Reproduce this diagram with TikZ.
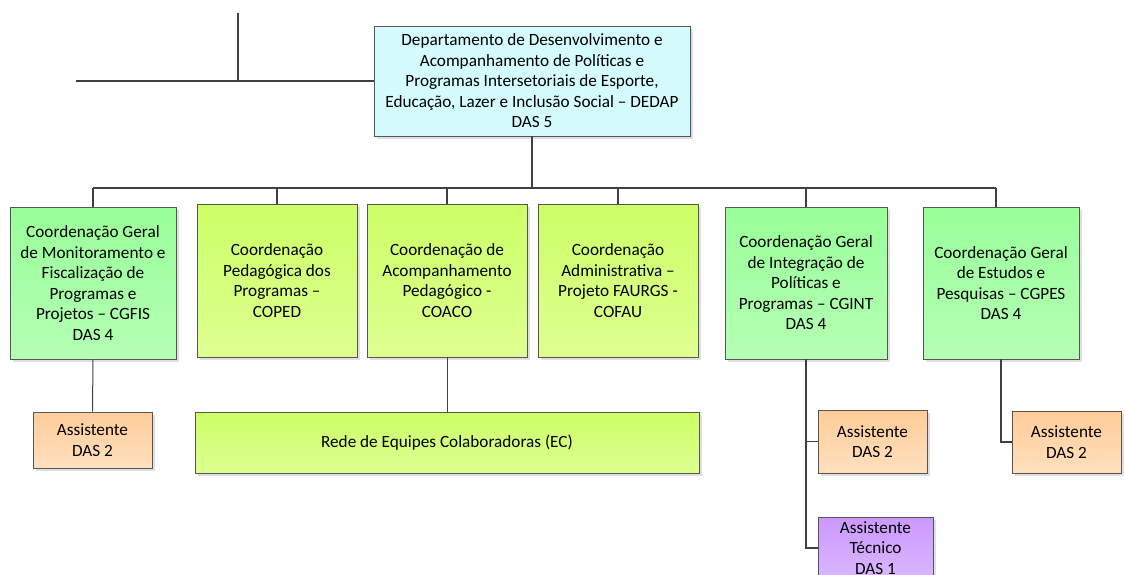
\documentclass[tikz,border=0pt]{standalone}
\usepackage{fontspec}
\setmainfont{Carlito}
\usetikzlibrary{shadows}
\definecolor{cyanf}{RGB}{212,252,252}
\definecolor{greenT}{RGB}{153,255,153}
\definecolor{greenB}{RGB}{180,255,180}
\definecolor{limeT}{RGB}{204,255,102}
\definecolor{limeB}{RGB}{222,255,145}
\definecolor{orgT}{RGB}{255,204,153}
\definecolor{orgB}{RGB}{255,224,190}
\definecolor{purT}{RGB}{204,153,255}
\definecolor{purB}{RGB}{218,182,255}
\definecolor{edgec}{RGB}{85,85,85}
\definecolor{linec}{RGB}{64,64,64}
\tikzset{
  orgbox/.style={rectangle, draw=edgec, line width=0.9pt, inner sep=0pt, align=center,
    font=\fontsize{17.2}{20.5}\selectfont,
    drop shadow={shadow xshift=3pt, shadow yshift=-3pt, fill=black!12, opacity=1}},
  topbox/.style={orgbox, fill=cyanf},
  greenbox/.style={orgbox, top color=greenT, bottom color=greenB},
  limebox/.style={orgbox, top color=limeT, bottom color=limeB},
  orgebox/.style={orgbox, top color=orgT, bottom color=orgB},
  purbox/.style={orgbox, top color=purT, bottom color=purB},
  conn/.style={draw=linec, line width=1.8pt},
  thinconn/.style={draw=linec, line width=1pt}
}
\begin{document}
\begin{tikzpicture}[x=1pt,y=-1pt]
\useasboundingbox (0,0) rectangle (1124,574);
\clip (0,0) rectangle (1124,574);
\node[topbox, minimum width=316pt, minimum height=110pt] (dep) at (532,81)
  {Departamento de Desenvolvimento e\\Acompanhamento de Políticas e\\Programas Intersetoriais de Esporte,\\Educação, Lazer e Inclusão Social – DEDAP\\DAS 5};
\node[greenbox, minimum width=166pt, minimum height=152pt] (cgfis) at (93,283)
  {Coordenação Geral\\de Monitoramento e\\Fiscalização de\\Programas e\\Projetos – CGFIS\\DAS 4};
\node[limebox, minimum width=160pt, minimum height=153pt] (coped) at (277,280.5)
  {Coordenação\\Pedagógica dos\\Programas –\\COPED};
\node[limebox, minimum width=160pt, minimum height=153pt] (coaco) at (447,280.5)
  {Coordenação de\\Acompanhamento\\Pedagógico -\\COACO};
\node[limebox, minimum width=160pt, minimum height=153pt] (cofau) at (618,280.5)
  {Coordenação\\Administrativa –\\Projeto FAURGS -\\COFAU};
\node[greenbox, minimum width=162pt, minimum height=152pt] (cgint) at (806,283)
  {Coordenação Geral\\de Integração de\\Políticas e\\Programas – CGINT\\DAS 4};
\node[greenbox, minimum width=156pt, minimum height=152pt] (cgpes) at (1001,283)
  {Coordenação Geral\\de Estudos e\\Pesquisas – CGPES\\DAS 4};
\node[orgebox, minimum width=119pt, minimum height=56pt] (as1) at (92.5,440)
  {Assistente\\DAS 2};
\node[limebox, minimum width=504pt, minimum height=61pt] (rede) at (447,442.5)
  {Rede de Equipes Colaboradoras (EC)};
\node[orgebox, minimum width=109pt, minimum height=63pt] (as2) at (872.5,441.5)
  {Assistente\\DAS 2};
\node[orgebox, minimum width=109pt, minimum height=62pt] (as3) at (1066.5,442)
  {Assistente\\DAS 2};
\node[purbox, minimum width=115pt, minimum height=62pt] (at) at (875.5,548)
  {Assistente\\Técnico\\DAS 1};
% top-left lines
\coordinate (topL) at (76,81);
\coordinate (topV) at (238,13);
\coordinate (topJ) at (238,81);
\draw[conn] (topL) -- (dep.west);
\draw[conn] (topV) -- (topJ);
% bus
\coordinate (busL) at (93,188);
\coordinate (busR) at (996,188);
\draw[conn] (dep.south) -- (dep.south |- busL);
\draw[conn] (busL) -- (busR);
\draw[conn] (busL) -- (cgfis.north);
\draw[conn] (coped.north |- busL) -- (coped.north);
\draw[conn] (coaco.north |- busL) -- (coaco.north);
\draw[conn] (cofau.north |- busL) -- (cofau.north);
\draw[conn] (cgint.north |- busL) -- (cgint.north);
\draw[conn] (busR) -- (busR |- cgpes.north);
% lower connectors
\draw[thinconn] (cgfis.south) -- (as1.north);
\draw[thinconn] (coaco.south) -- (rede.north);
\draw[conn] (cgint.south) |- (at.west);
\draw[conn] (cgint.south |- as2.west) -- (as2.west);
\draw[conn] (cgpes.south) |- (as3.west);
\end{tikzpicture}
\end{document}
